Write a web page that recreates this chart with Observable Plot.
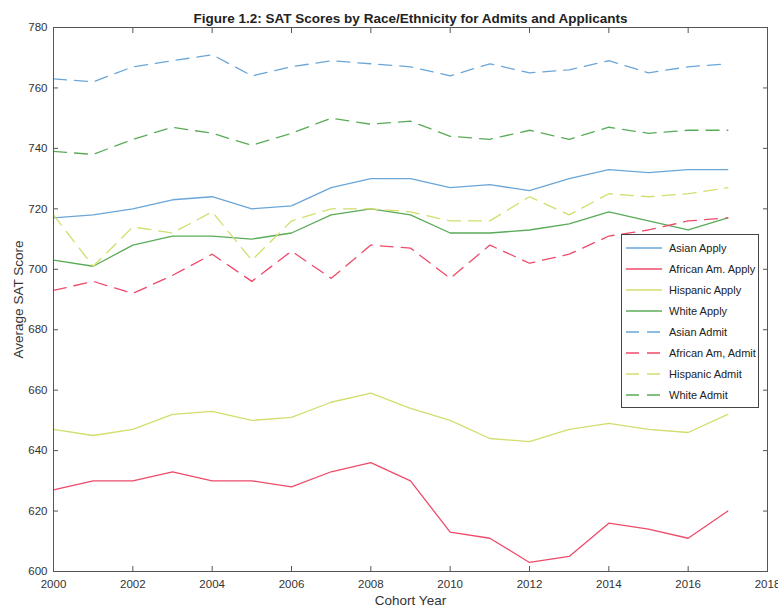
<!DOCTYPE html>
<html>
<head>
<meta charset="utf-8">
<script src="https://cdn.jsdelivr.net/npm/d3@7"></script>
<script src="https://cdn.jsdelivr.net/npm/@observablehq/plot@0.6"></script>
<style>
  body { margin: 0; background: #fff; font-family: "Liberation Sans", Arial, sans-serif; }
  #wrap { position: relative; width: 778px; height: 607px; }
  #legend { position: absolute; left: 621px; top: 234px; width: 138px; height: 174px; border: 1px solid #444; background: #fff; box-sizing: border-box; font-size: 11px; color: #222; }
  .li { position: absolute; left: 0; height: 16px; display: flex; align-items: center; }
  .li svg { margin-left: 4px; margin-right: 7px; }
</style>
</head>
<body>
<div id="wrap"><div id="chart"></div><div id="legend"></div></div>
<script>
const years = [2000,2001,2002,2003,2004,2005,2006,2007,2008,2009,2010,2011,2012,2013,2014,2015,2016,2017];
const races = ["Asian", "African Am.", "Hispanic", "White"];
const colors = ["#6aa6d8", "#ee4a6a", "#d3dd6c", "#5aab58"];
const asianApply    = [717,718,720,723,724,720,721,727,730,730,727,728,726,730,733,732,733,733];
const africanApply  = [627,630,630,633,630,630,628,633,636,630,613,611,603,605,616,614,611,620];
const hispanicApply = [647,645,647,652,653,650,651,656,659,654,650,644,643,647,649,647,646,652];
const whiteApply    = [703,701,708,711,711,710,712,718,720,718,712,712,713,715,719,716,713,717];
const asianAdmit    = [763,762,767,769,771,764,767,769,768,767,764,768,765,766,769,765,767,768];
const africanAdmit  = [693,696,692,698,705,696,706,697,708,707,697,708,702,705,711,713,716,717];
const hispanicAdmit = [718,701,714,712,719,703,716,720,720,719,716,716,724,718,725,724,725,727];
const whiteAdmit    = [739,738,743,747,745,741,745,750,748,749,744,743,746,743,747,745,746,746];
const legendLabels = ["Asian Apply","African Am. Apply","Hispanic Apply","White Apply","Asian Admit","African Am, Admit","Hispanic Admit","White Admit"];
const xTicks = [2000,2002,2004,2006,2008,2010,2012,2014,2016,2018];
const yTicks = [600,620,640,660,680,700,720,740,760,780];
const title = "Figure 1.2: SAT Scores by Race/Ethnicity for Admits and Applicants";
const xLabel = "Cohort Year";
const yLabel = "Average SAT Score";

const applySeries = [asianApply, africanApply, hispanicApply, whiteApply];
const admitSeries = [asianAdmit, africanAdmit, hispanicAdmit, whiteAdmit];
const toRows = (series) => series.flatMap((vals, i) => vals.map((v, j) => ({year: years[j], score: v, race: races[i]})));
const applyRows = toRows(applySeries);
const admitRows = toRows(admitSeries);

const axisFont = {fontSize: 11.5, fill: "#333"};
const chart = Plot.plot({
  width: 778,
  height: 607,
  marginTop: 27,
  marginLeft: 53,
  marginRight: 11,
  marginBottom: 36,
  style: {fontFamily: "Liberation Sans, Arial, sans-serif", fontSize: "11.5px", color: "#333", background: "#fff"},
  x: {domain: [2000, 2018]},
  y: {domain: [600, 780]},
  color: {domain: races, range: colors},
  marks: [
    Plot.line(applyRows, {x: "year", y: "score", z: "race", stroke: "race", strokeWidth: 1.3}),
    Plot.line(admitRows, {x: "year", y: "score", z: "race", stroke: "race", strokeWidth: 1.3, strokeDasharray: "13,8"}),
    Plot.frame({stroke: "#555", strokeWidth: 1}),
    Plot.axisX({anchor: "bottom", ticks: xTicks, tickSize: -5, tickPadding: 13, tickFormat: d => String(d), stroke: "#555", ...axisFont, label: null}),
    Plot.axisX({anchor: "top", ticks: xTicks, tickSize: -5, text: null, stroke: "#555", label: null}),
    Plot.axisY({anchor: "left", ticks: yTicks, tickSize: -5, tickPadding: 11, stroke: "#555", ...axisFont, label: null}),
    Plot.axisY({anchor: "right", ticks: yTicks, tickSize: -5, text: null, stroke: "#555", label: null}),
    Plot.text([xLabel], {frameAnchor: "bottom", dy: 33, fontSize: 13.5, fill: "#333"}),
    Plot.text([yLabel], {frameAnchor: "left", dx: -35, rotate: -90, textAnchor: "middle", fontSize: 13.5, fill: "#333"}),
    Plot.text([title], {frameAnchor: "top", dy: -14, fontWeight: "bold", fontSize: 13.5, fill: "#222"})
  ]
});
document.getElementById("chart").appendChild(chart);

// legend
const legend = document.getElementById("legend");
legendLabels.forEach((lab, i) => {
  const c = colors[i % 4];
  const dashed = i >= 4;
  const div = document.createElement("div");
  div.className = "li";
  div.style.top = (5 + i * 21) + "px";
  div.innerHTML = `<svg width="36" height="4"><line x1="0" y1="2" x2="36" y2="2" stroke="${c}" stroke-width="1.3" ${dashed ? 'stroke-dasharray="13,8"' : ''}/></svg><span>${lab}</span>`;
  legend.appendChild(div);
});
</script>
</body>
</html>
